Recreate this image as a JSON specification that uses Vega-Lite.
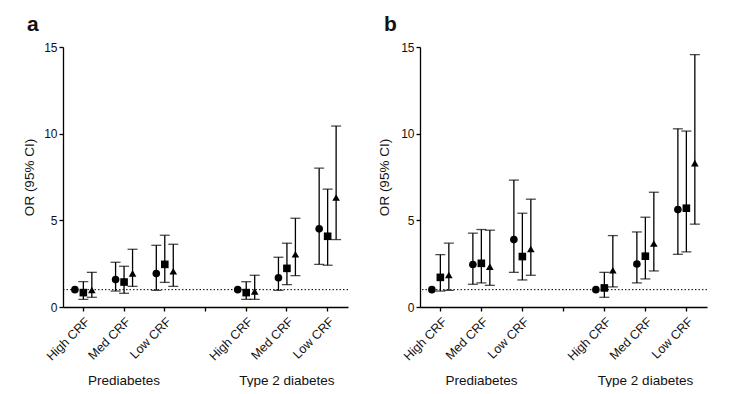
{
  "$schema": "https://vega.github.io/schema/vega-lite/v6.json",
  "padding": {"left": 22, "top": 14, "right": 5, "bottom": 0},
  "spacing": 28,
  "config": {
    "view": {"stroke": null},
    "font": "Liberation Sans",
    "axis": {"domainColor": "black", "tickColor": "black", "labelColor": "#111", "titleColor": "#111", "grid": false, "domainWidth": 1.3, "tickWidth": 1.3, "tickSize": 4, "labelFontSize": 12, "titleFontSize": 13.5, "titleFontWeight": "normal"},
    "title": {"fontSize": 21, "fontWeight": "bold", "color": "#111", "anchor": "start", "frame": "group", "dx": -36, "offset": 6}
  },
  "data": {"values": [
    {"panel": "a", "cat": "P-High CRF", "model": "M1", "est": 1.0, "lo": null, "hi": null},
    {"panel": "a", "cat": "P-High CRF", "model": "M2", "est": 0.83, "lo": 0.44, "hi": 1.46},
    {"panel": "a", "cat": "P-High CRF", "model": "M3", "est": 0.98, "lo": 0.56, "hi": 2.0},
    {"panel": "a", "cat": "P-Med CRF", "model": "M1", "est": 1.58, "lo": 0.92, "hi": 2.58},
    {"panel": "a", "cat": "P-Med CRF", "model": "M2", "est": 1.44, "lo": 0.79, "hi": 2.35},
    {"panel": "a", "cat": "P-Med CRF", "model": "M3", "est": 1.94, "lo": 1.19, "hi": 3.33},
    {"panel": "a", "cat": "P-Low CRF", "model": "M1", "est": 1.93, "lo": 0.96, "hi": 3.56},
    {"panel": "a", "cat": "P-Low CRF", "model": "M2", "est": 2.46, "lo": 1.42, "hi": 4.14},
    {"panel": "a", "cat": "P-Low CRF", "model": "M3", "est": 2.06, "lo": 1.19, "hi": 3.62},
    {"panel": "a", "cat": "T-High CRF", "model": "M1", "est": 1.0, "lo": null, "hi": null},
    {"panel": "a", "cat": "T-High CRF", "model": "M2", "est": 0.83, "lo": 0.44, "hi": 1.46},
    {"panel": "a", "cat": "T-High CRF", "model": "M3", "est": 0.9, "lo": 0.44, "hi": 1.83},
    {"panel": "a", "cat": "T-Med CRF", "model": "M1", "est": 1.69, "lo": 0.96, "hi": 2.87},
    {"panel": "a", "cat": "T-Med CRF", "model": "M2", "est": 2.23, "lo": 1.29, "hi": 3.68},
    {"panel": "a", "cat": "T-Med CRF", "model": "M3", "est": 3.04, "lo": 1.81, "hi": 5.12},
    {"panel": "a", "cat": "T-Low CRF", "model": "M1", "est": 4.51, "lo": 2.46, "hi": 8.01},
    {"panel": "a", "cat": "T-Low CRF", "model": "M2", "est": 4.08, "lo": 2.41, "hi": 6.8},
    {"panel": "a", "cat": "T-Low CRF", "model": "M3", "est": 6.32, "lo": 3.89, "hi": 10.44},
    {"panel": "b", "cat": "P-High CRF", "model": "M1", "est": 1.0, "lo": null, "hi": null},
    {"panel": "b", "cat": "P-High CRF", "model": "M2", "est": 1.71, "lo": 0.92, "hi": 3.02},
    {"panel": "b", "cat": "P-High CRF", "model": "M3", "est": 1.85, "lo": 0.96, "hi": 3.68},
    {"panel": "b", "cat": "P-Med CRF", "model": "M1", "est": 2.45, "lo": 1.31, "hi": 4.26},
    {"panel": "b", "cat": "P-Med CRF", "model": "M2", "est": 2.52, "lo": 1.39, "hi": 4.47},
    {"panel": "b", "cat": "P-Med CRF", "model": "M3", "est": 2.33, "lo": 1.25, "hi": 4.43},
    {"panel": "b", "cat": "P-Low CRF", "model": "M1", "est": 3.89, "lo": 2.0, "hi": 7.32},
    {"panel": "b", "cat": "P-Low CRF", "model": "M2", "est": 2.91, "lo": 1.56, "hi": 5.41},
    {"panel": "b", "cat": "P-Low CRF", "model": "M3", "est": 3.35, "lo": 1.83, "hi": 6.22},
    {"panel": "b", "cat": "T-High CRF", "model": "M1", "est": 1.0, "lo": null, "hi": null},
    {"panel": "b", "cat": "T-High CRF", "model": "M2", "est": 1.1, "lo": 0.56, "hi": 2.0},
    {"panel": "b", "cat": "T-High CRF", "model": "M3", "est": 2.12, "lo": 1.16, "hi": 4.12},
    {"panel": "b", "cat": "T-Med CRF", "model": "M1", "est": 2.48, "lo": 1.39, "hi": 4.33},
    {"panel": "b", "cat": "T-Med CRF", "model": "M2", "est": 2.93, "lo": 1.62, "hi": 5.18},
    {"panel": "b", "cat": "T-Med CRF", "model": "M3", "est": 3.66, "lo": 2.08, "hi": 6.62},
    {"panel": "b", "cat": "T-Low CRF", "model": "M1", "est": 5.62, "lo": 3.04, "hi": 10.28},
    {"panel": "b", "cat": "T-Low CRF", "model": "M2", "est": 5.7, "lo": 3.18, "hi": 10.15},
    {"panel": "b", "cat": "T-Low CRF", "model": "M3", "est": 8.3, "lo": 4.78, "hi": 14.56}
  ]},
  "hconcat": [
    {
      "title": "a",
      "width": 285,
      "height": 260,
      "transform": [{"filter": "datum.panel == 'a'"}],
      "layer": [
        {
          "data": {"values": [{"ref": 1}]},
          "mark": {"type": "rule", "strokeDash": [1.5, 2], "color": "black", "strokeWidth": 1},
          "encoding": {"y": {"field": "ref", "type": "quantitative", "scale": {"domain": [0, 15], "nice": false}, "axis": {"title": "OR (95% CI)", "values": [0, 5, 10, 15], "labelPadding": 2, "titlePadding": 7}}}
        },
        {
          "layer": [
            {
              "transform": [{"filter": "datum.lo != null"}],
              "mark": {"type": "rule", "color": "black", "strokeWidth": 1.3},
              "encoding": {
                "x": {"field": "cat", "type": "nominal", "scale": {"type": "band", "domain": ["P-High CRF", "P-Med CRF", "P-Low CRF", "gap", "T-High CRF", "T-Med CRF", "T-Low CRF"], "paddingInner": 0, "paddingOuter": 0}, "axis": {"title": null, "orient": "bottom", "labelAngle": -45, "labelFontSize": 12.5, "labelExpr": "datum.label == 'gap' ? '' : slice(datum.label, 2)", "labelPadding": 4}},
                "xOffset": {"field": "model", "type": "nominal", "scale": {"type": "band", "paddingInner": 0, "paddingOuter": 0.9}},
                "y": {"field": "lo", "type": "quantitative"},
                "y2": {"field": "hi"}
              }
            },
            {
              "transform": [{"filter": "datum.lo != null"}],
              "mark": {"type": "tick", "color": "black", "size": 10, "thickness": 1.3},
              "encoding": {
                "x": {"field": "cat", "type": "nominal"},
                "xOffset": {"field": "model", "type": "nominal"},
                "y": {"field": "lo", "type": "quantitative"}
              }
            },
            {
              "transform": [{"filter": "datum.lo != null"}],
              "mark": {"type": "tick", "color": "black", "size": 10, "thickness": 1.3},
              "encoding": {
                "x": {"field": "cat", "type": "nominal"},
                "xOffset": {"field": "model", "type": "nominal"},
                "y": {"field": "hi", "type": "quantitative"}
              }
            },
            {
              "mark": {"type": "point", "filled": true, "color": "black", "opacity": 1, "size": 58},
              "encoding": {
                "x": {"field": "cat", "type": "nominal"},
                "xOffset": {"field": "model", "type": "nominal"},
                "y": {"field": "est", "type": "quantitative"},
                "shape": {"field": "model", "type": "nominal", "scale": {"domain": ["M1", "M2", "M3"], "range": ["circle", "square", "triangle-up"]}, "legend": null}
              }
            }
          ]
        },
        {
          "mark": {"type": "point", "opacity": 0},
          "encoding": {
            "x": {"field": "cat", "type": "nominal", "scale": {"type": "band", "domain": ["P-High CRF", "P-Med CRF", "P-Low CRF", "gap", "T-High CRF", "T-Med CRF", "T-Low CRF"], "paddingInner": 0, "paddingOuter": 0}, "axis": {"title": null, "orient": "bottom", "domain": false, "ticks": false, "labelAngle": 0, "labelAlign": "center", "labelFontSize": 13.5, "labelOverlap": false, "labelBound": false, "labelFlush": false, "labelPadding": 66, "labelExpr": "datum.label == 'P-Med CRF' ? 'Prediabetes' : datum.label == 'T-Med CRF' ? 'Type 2 diabetes' : ''"}},
            "y": {"field": "est", "type": "quantitative"}
          }
        }
      ],
      "resolve": {"scale": {"x": "independent"}}
    },
    {
      "title": "b",
      "width": 287,
      "height": 260,
      "transform": [{"filter": "datum.panel == 'b'"}],
      "layer": [
        {
          "data": {"values": [{"ref": 1}]},
          "mark": {"type": "rule", "strokeDash": [1.5, 2], "color": "black", "strokeWidth": 1},
          "encoding": {"y": {"field": "ref", "type": "quantitative", "scale": {"domain": [0, 15], "nice": false}, "axis": {"title": "OR (95% CI)", "values": [0, 5, 10, 15], "labelPadding": 2, "titlePadding": 9}}}
        },
        {
          "layer": [
            {
              "transform": [{"filter": "datum.lo != null"}],
              "mark": {"type": "rule", "color": "black", "strokeWidth": 1.3},
              "encoding": {
                "x": {"field": "cat", "type": "nominal", "scale": {"type": "band", "domain": ["P-High CRF", "P-Med CRF", "P-Low CRF", "gap", "T-High CRF", "T-Med CRF", "T-Low CRF"], "paddingInner": 0, "paddingOuter": 0}, "axis": {"title": null, "orient": "bottom", "labelAngle": -45, "labelFontSize": 12.5, "labelExpr": "datum.label == 'gap' ? '' : slice(datum.label, 2)", "labelPadding": 4}},
                "xOffset": {"field": "model", "type": "nominal", "scale": {"type": "band", "paddingInner": 0, "paddingOuter": 0.9}},
                "y": {"field": "lo", "type": "quantitative"},
                "y2": {"field": "hi"}
              }
            },
            {
              "transform": [{"filter": "datum.lo != null"}],
              "mark": {"type": "tick", "color": "black", "size": 10, "thickness": 1.3},
              "encoding": {
                "x": {"field": "cat", "type": "nominal"},
                "xOffset": {"field": "model", "type": "nominal"},
                "y": {"field": "lo", "type": "quantitative"}
              }
            },
            {
              "transform": [{"filter": "datum.lo != null"}],
              "mark": {"type": "tick", "color": "black", "size": 10, "thickness": 1.3},
              "encoding": {
                "x": {"field": "cat", "type": "nominal"},
                "xOffset": {"field": "model", "type": "nominal"},
                "y": {"field": "hi", "type": "quantitative"}
              }
            },
            {
              "mark": {"type": "point", "filled": true, "color": "black", "opacity": 1, "size": 58},
              "encoding": {
                "x": {"field": "cat", "type": "nominal"},
                "xOffset": {"field": "model", "type": "nominal"},
                "y": {"field": "est", "type": "quantitative"},
                "shape": {"field": "model", "type": "nominal", "scale": {"domain": ["M1", "M2", "M3"], "range": ["circle", "square", "triangle-up"]}, "legend": null}
              }
            }
          ]
        },
        {
          "mark": {"type": "point", "opacity": 0},
          "encoding": {
            "x": {"field": "cat", "type": "nominal", "scale": {"type": "band", "domain": ["P-High CRF", "P-Med CRF", "P-Low CRF", "gap", "T-High CRF", "T-Med CRF", "T-Low CRF"], "paddingInner": 0, "paddingOuter": 0}, "axis": {"title": null, "orient": "bottom", "domain": false, "ticks": false, "labelAngle": 0, "labelAlign": "center", "labelFontSize": 13.5, "labelOverlap": false, "labelBound": false, "labelFlush": false, "labelPadding": 66, "labelExpr": "datum.label == 'P-Med CRF' ? 'Prediabetes' : datum.label == 'T-Med CRF' ? 'Type 2 diabetes' : ''"}},
            "y": {"field": "est", "type": "quantitative"}
          }
        }
      ],
      "resolve": {"scale": {"x": "independent"}}
    }
  ]
}
